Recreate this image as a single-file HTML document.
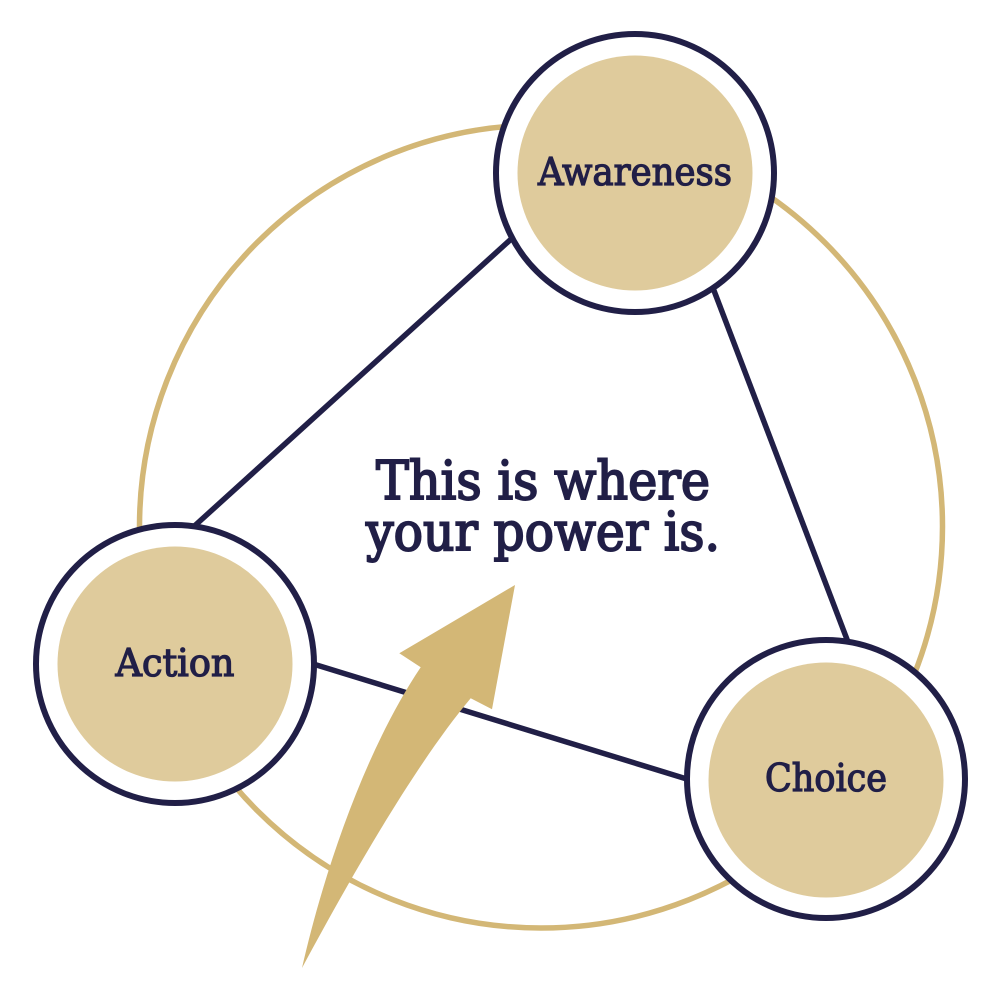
<!DOCTYPE html>
<html>
<head>
<meta charset="utf-8">
<style>
html,body{margin:0;padding:0;background:#fff;width:1000px;height:1000px;overflow:hidden}
svg{display:block}
text{font-family:"DejaVu Serif","Liberation Serif",serif;fill:#211f47;stroke:#211f47;text-anchor:middle;font-weight:400}
</style>
</head>
<body>
<svg width="1000" height="1000" viewBox="0 0 1000 1000" xmlns="http://www.w3.org/2000/svg">
<rect width="1000" height="1000" fill="#fff"/>
<circle cx="541" cy="526.5" r="401.5" fill="none" stroke="#d3b776" stroke-width="5.5"/>
<line x1="190" y1="530" x2="520" y2="231" stroke="#211f47" stroke-width="5.5"/>
<line x1="713" y1="288" x2="848" y2="642" stroke="#211f47" stroke-width="5.5"/>
<line x1="310" y1="663" x2="690" y2="780" stroke="#211f47" stroke-width="5.5"/>
<g fill="#fff" stroke="#211f47" stroke-width="6">
<circle cx="635" cy="173" r="139"/>
<circle cx="175" cy="664" r="139"/>
<circle cx="826" cy="779" r="139"/>
</g>
<g fill="#dfcb9c">
<circle cx="635" cy="173" r="117.5"/>
<circle cx="175" cy="664" r="117.5"/>
<circle cx="826" cy="780" r="117.5"/>
</g>
<path d="M302 968 C322 880 362 755 420.7 667.3 L399.3 653.3 L515 585 L492 709.3 L470.7 698.3 C415 765 352 875 302 968 Z" fill="#d3b776"/>
<text x="635" y="185" font-size="38" stroke-width="1.3" textLength="194" lengthAdjust="spacingAndGlyphs">Awareness</text>
<text x="175" y="676" font-size="38" stroke-width="1.3" textLength="119" lengthAdjust="spacingAndGlyphs">Action</text>
<text x="826" y="791" font-size="38" stroke-width="1.3" textLength="122" lengthAdjust="spacingAndGlyphs">Choice</text>
<text x="543" y="499" font-size="53" stroke-width="2" textLength="334" lengthAdjust="spacingAndGlyphs">This is where</text>
<text x="543" y="550" font-size="53" stroke-width="2" textLength="354" lengthAdjust="spacingAndGlyphs">your power is.</text>
</svg>
</body>
</html>
